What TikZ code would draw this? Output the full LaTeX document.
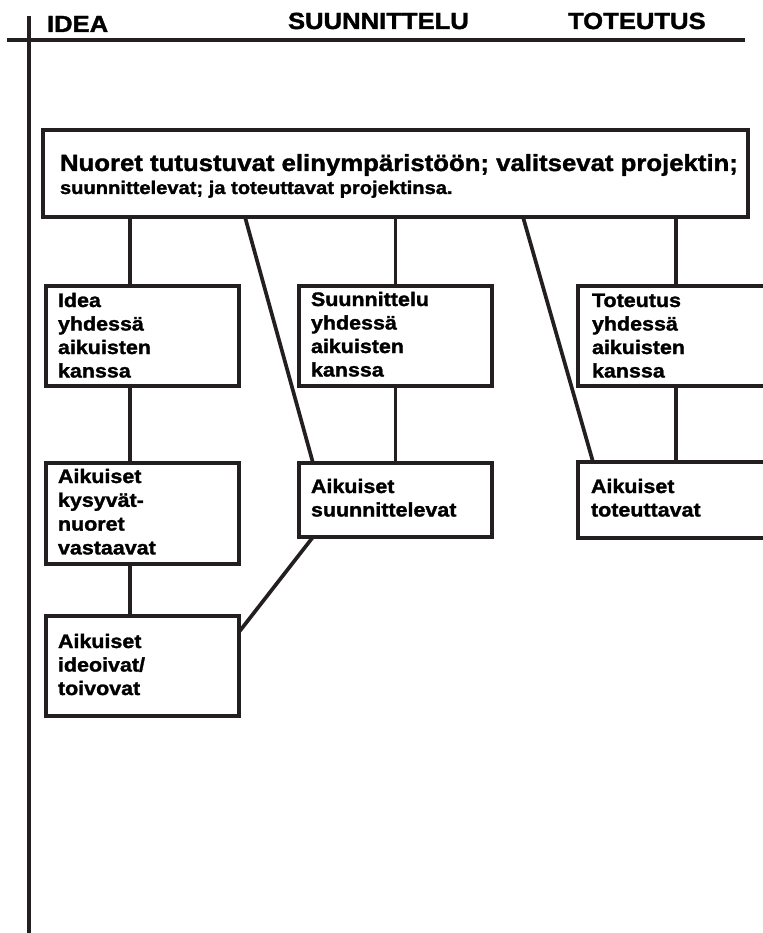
\documentclass[tikz,border=0pt]{standalone}
\usepackage{fontspec}
\setmainfont[FakeStretch=1.1,BoldFeatures={FakeBold=1.5}]{Liberation Sans}
\definecolor{ink}{RGB}{35,31,32}
\begin{document}
\begin{tikzpicture}[x=1pt,y=-1pt,
  every node/.style={inner sep=0pt,outer sep=0pt},
  boxs/.style={draw=ink,line width=3.7pt,rectangle,fill=white,anchor=north west,minimum width=193pt},
  link/.style={draw=ink,line width=3.7pt},
  axis/.style={draw=ink,line width=3.7pt},
  hdr/.style={anchor=base west,font=\fontsize{23.3}{26}\selectfont\bfseries,text=black},
  txt/.style={anchor=base west,font=\fontsize{19.5}{23.5}\selectfont\bfseries,text=black}]
\useasboundingbox (0,0) rectangle (762,933);
% axes
\coordinate (axT) at (29,16);
\coordinate (axB) at (29,935);
\coordinate (axL) at (7,40);
\coordinate (axR) at (745,40);
\draw[axis] (axT) -- (axB);
\draw[axis] (axL) -- (axR);
% headers
\node[hdr] (hIdea) at (47,32) {IDEA};
\node[hdr] (hSuun) at (288,29) {SUUNNITTELU};
\node[hdr] (hTot) at (568,29) {TOTEUTUS};
% boxes
\node[boxs,minimum width=705pt,minimum height=87pt] (main) at (43,130) {};
\node[boxs,minimum height=100pt] (idea) at (46,286) {};
\node[boxs,minimum height=100pt] (sunn) at (299,286) {};
\node[boxs,minimum height=100pt] (tot) at (578,286) {};
\node[boxs,minimum height=101pt] (kys) at (46,463) {};
\node[boxs,minimum height=74pt] (sugg) at (299,463) {};
\node[boxs,minimum height=76pt] (tott) at (578,462) {};
\node[boxs,minimum height=100pt] (ideo) at (46,616) {};
% connectors
\draw[link] ([xshift=-12.5pt]idea.north) -- ([xshift=-12.5pt]idea.north |- main.south);
\draw[link] ([xshift=-12.5pt]kys.north) -- ([xshift=-12.5pt]idea.south);
\draw[link] ([xshift=-12.5pt]ideo.north) -- ([xshift=-12.5pt]kys.south);
\draw[link] (sunn.north) -- (sunn.north |- main.south);
\draw[link] (sugg.north) -- (sunn.south);
\draw[link] ([xshift=1.5pt]tot.north) -- ([xshift=1.5pt]tot.north |- main.south);
\draw[link] ([xshift=1.5pt]tott.north) -- ([xshift=1.5pt]tot.south);
\draw[link] ([xshift=202pt]main.south west) -- ([xshift=14pt]sugg.north west);
\draw[link] ([xshift=480pt]main.south west) -- ([xshift=15pt]tott.north west);
\draw[link] ([xshift=14pt]sugg.south west) -- ([yshift=-16pt]ideo.north east);
% texts
\node[anchor=base west,font=\fontsize{23.4}{26}\selectfont\bfseries] (m1) at (60,171) {Nuoret tutustuvat elinympäristöön; valitsevat projektin;};
\node[anchor=base west,font=\fontsize{18.3}{22}\selectfont\bfseries] (m2) at (60,194) {suunnittelevat; ja toteuttavat projektinsa.};
\node[txt] (tIdea) at (58,307) {\vtop{\baselineskip=23.5pt\hbox{Idea}\hbox{yhdessä}\hbox{aikuisten}\hbox{kanssa}}};
\node[txt] (tSunn) at (311,306) {\vtop{\baselineskip=23.5pt\hbox{Suunnittelu}\hbox{yhdessä}\hbox{aikuisten}\hbox{kanssa}}};
\node[txt] (tTot) at (592,307) {\vtop{\baselineskip=23.5pt\hbox{Toteutus}\hbox{yhdessä}\hbox{aikuisten}\hbox{kanssa}}};
\node[txt] (tKys) at (58,483) {\vtop{\baselineskip=23.8pt\hbox{Aikuiset}\hbox{kysyvät-}\hbox{nuoret}\hbox{vastaavat}}};
\node[txt] (tSugg) at (311,493) {\vtop{\baselineskip=23.5pt\hbox{Aikuiset}\hbox{suunnittelevat}}};
\node[txt] (tTott) at (591,493) {\vtop{\baselineskip=23.5pt\hbox{Aikuiset}\hbox{toteuttavat}}};
\node[txt] (tIdeo) at (58,648) {\vtop{\baselineskip=23.5pt\hbox{Aikuiset}\hbox{ideoivat/}\hbox{toivovat}}};
\end{tikzpicture}
\end{document}
